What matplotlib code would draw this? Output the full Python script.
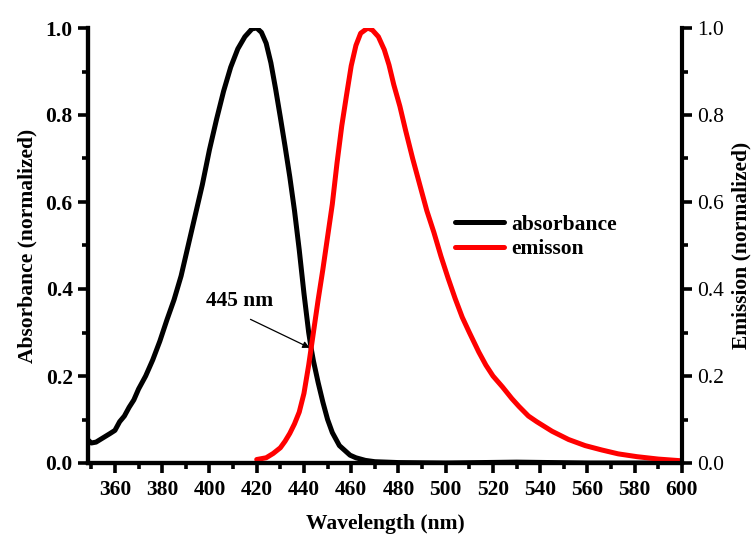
import matplotlib
matplotlib.use("Agg")
import matplotlib.pyplot as plt
from matplotlib.ticker import MultipleLocator

plt.rcParams['font.family'] = ['Liberation Serif', 'DejaVu Serif']

abs_wl = [348.6, 350, 352, 355, 358, 360, 362, 364, 366, 368, 370, 373, 376, 379,
          382, 385, 388, 391, 394, 397, 400, 403, 406, 409, 412, 415, 418, 420,
          422, 424, 426, 428, 430, 432, 434, 436, 438, 440, 442, 443, 444, 446,
          448, 450, 452, 455, 459.5, 462, 466, 470, 480, 500, 530, 560, 600]
abs_val = [0.053, 0.046, 0.048, 0.058, 0.068, 0.075, 0.095, 0.108, 0.128, 0.145, 0.17,
           0.2, 0.237, 0.28, 0.329, 0.375, 0.43, 0.5, 0.57, 0.64, 0.72, 0.79, 0.855,
           0.91, 0.952, 0.98, 0.998, 1.0, 0.99, 0.965, 0.92, 0.86, 0.795, 0.728, 0.658,
           0.58, 0.49, 0.39, 0.3, 0.265, 0.235, 0.185, 0.14, 0.1, 0.07, 0.04,
           0.018, 0.012, 0.006, 0.003, 0.001, 0.0, 0.002, 0.0, 0.0]

em_wl = [420, 424, 427, 430, 432, 434, 436, 438, 440, 442, 444, 446, 448, 450,
         452, 454, 456, 458, 460, 462, 464, 467, 469, 471.5, 474, 476, 478, 480.6,
         483, 486, 489, 492, 495, 498, 501, 504, 507, 510, 514, 517, 520, 524, 528,
         531, 535, 538.5, 545, 552, 559, 566, 573, 581, 590, 600]
em_val = [0.008, 0.012, 0.022, 0.035, 0.05, 0.068, 0.09, 0.117, 0.16, 0.225, 0.3,
          0.375, 0.445, 0.52, 0.595, 0.69, 0.775, 0.845, 0.913, 0.96, 0.988, 1.0,
          0.995, 0.98, 0.95, 0.915, 0.87, 0.82, 0.765, 0.7, 0.64, 0.58, 0.53, 0.475,
          0.425, 0.378, 0.335, 0.3, 0.255, 0.225, 0.2, 0.175, 0.148, 0.13, 0.108,
          0.095, 0.073, 0.054, 0.04, 0.03, 0.021, 0.0145, 0.009, 0.005]

x_ticks = [360, 380, 400, 420, 440, 460, 480, 500, 520, 540, 560, 580, 600]
y_ticks = [0.0, 0.2, 0.4, 0.6, 0.8, 1.0]

fig = plt.figure(figsize=(7.53, 5.35), dpi=100)
ax = fig.add_axes([88/753, 1-463/535, (682-88)/753, (463-28)/535])
ax2 = ax.twinx()

l1, = ax.plot(abs_wl, abs_val, color='black', lw=3.6, label='absorbance',
              solid_capstyle='round', solid_joinstyle='round')
l2, = ax2.plot(em_wl, em_val, color='#ff0000', lw=3.6, label='emisson',
               solid_capstyle='round', solid_joinstyle='round')

ax.set_xlim(348.6, 600)
ax.set_ylim(0, 1.0)
ax2.set_ylim(0, 1.0)

ax.set_xticks(x_ticks)
ax.set_yticks(y_ticks)
ax2.set_yticks(y_ticks)
ax.xaxis.set_minor_locator(MultipleLocator(10))
ax.yaxis.set_minor_locator(MultipleLocator(0.1))
ax2.yaxis.set_minor_locator(MultipleLocator(0.1))
ax.set_yticklabels([f'{v:.1f}' for v in y_ticks])
ax2.set_yticklabels([f'{v:.1f}' for v in y_ticks])

for a in (ax, ax2):
    for s in a.spines.values():
        s.set_linewidth(3.0)
    a.spines['top'].set_visible(False)
ax.spines['right'].set_visible(False)

ax.tick_params(axis='both', which='major', direction='out', length=7.5, width=2.6,
               labelsize=15.5)
ax.tick_params(axis='x', which='major', pad=5)
ax.tick_params(axis='both', which='minor', direction='out', length=4.5, width=2.6)
ax2.tick_params(axis='y', which='major', direction='out', length=7.5, width=2.6,
                labelsize=15.5)
ax2.tick_params(axis='y', which='minor', direction='out', length=4.5, width=2.6)
for lab in ax.get_xticklabels() + ax.get_yticklabels():
    lab.set_fontweight('bold')

ax.set_xlabel('Wavelength (nm)', fontsize=15.5, fontweight='bold', labelpad=10)
ax.set_ylabel('Absorbance (normalized)', fontsize=15.5, fontweight='bold', labelpad=6)
ax2.set_ylabel('Emission (normalized)', fontsize=15.5, fontweight='bold', labelpad=5)

ax.text(412.9, 0.372, '445 nm', fontsize=15.5, fontweight='bold',
        ha='center', va='center')
ax.annotate('', xy=(443.5, 0.262), xytext=(416.3, 0.333),
            arrowprops=dict(arrowstyle='-|>', color='black', lw=0.9,
                            mutation_scale=10))

ax.legend(handles=[l1, l2], loc='upper left', bbox_to_anchor=(0.585, 0.615),
          frameon=False, prop={'weight': 'bold', 'size': 15.5},
          handlelength=2.3, handletextpad=0.3, labelspacing=0.2)

fig.savefig('out.png', dpi=100)
